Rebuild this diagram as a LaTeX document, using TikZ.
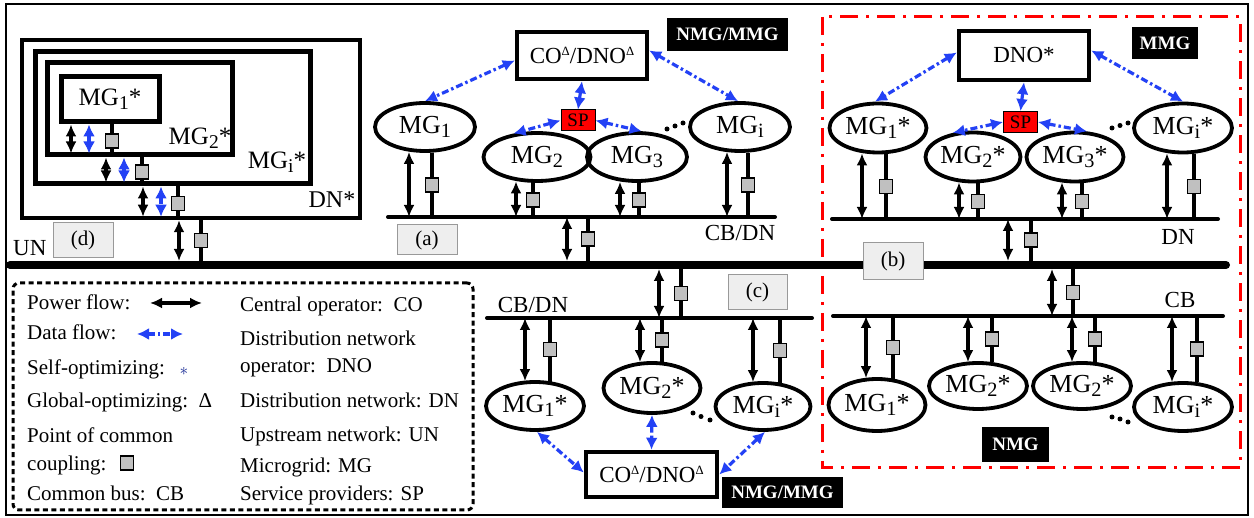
\documentclass[tikz,border=0pt]{standalone}
\usepackage{graphicx}
\usepackage{fontspec}
\setmainfont{Liberation Serif}
\usetikzlibrary{shapes.geometric,arrows.meta,calc}
\definecolor{dblue}{RGB}{35,65,245}
\definecolor{pccgray}{RGB}{192,192,192}
\definecolor{tagfill}{RGB}{238,238,238}
\newcommand\lo[1]{\raisebox{-0.32ex}{\scalebox{0.78}{#1}}}
\newcommand\tri{\raisebox{0.75ex}{\scalebox{0.55}{Δ}}}
\newcommand\fs[1]{\fontsize{#1}{#1}\selectfont}
\tikzset{
 mg/.style={ellipse, draw, line width=3.8pt, inner sep=0pt, font=\fs{26}},
 pcc/.style={rectangle, draw, line width=1.3pt, fill=pccgray, minimum width=13pt, minimum height=14pt, inner sep=0pt},
 pccl/.style={line width=3.2pt},
 pw/.style={line width=3.3pt, {Latex[length=12pt,width=11pt]}-{Latex[length=12pt,width=11pt]}},
 df/.style={dblue, line width=3.2pt, dash pattern=on 7pt off 3pt on 2.5pt off 3pt, {Latex[length=12pt,width=12pt]}-{Latex[length=12pt,width=12pt]}},
 bus/.style={line width=4pt, line cap=round},
 tagbox/.style={draw=gray!80, line width=1pt, fill=tagfill, font=\fs{21}},
 blk/.style={fill=black, text=white, font=\fs{19}\bfseries, inner sep=0pt},
 opbox/.style={draw, line width=4.5pt, font=\fs{23}, inner sep=0pt},
 spbox/.style={draw, fill=red, line width=1pt, font=\fs{19}, minimum width=34pt, minimum height=21pt, inner sep=0pt},
 lbl/.style={font=\fs{23}},
 leg/.style={font=\fs{21}, anchor=base west, inner sep=0pt},
 dbox/.style={draw, line width=5pt, inner sep=0pt},
 dotf/.style={fill=black},
}
\begin{document}
\begin{tikzpicture}[x=1pt,y=-1pt]
\useasboundingbox (0,0) rectangle (1254,518);
\fill[white] (0,0) rectangle (1254,518);
% frames
\draw[line width=2pt] (6,4) rectangle (1248,515);
\draw[red, line width=3pt, dash pattern=on 18pt off 8pt on 3pt off 8pt] (822,17) rectangle (1240,468);
\node[draw, line width=3pt, dash pattern=on 5pt off 3.5pt, rounded corners=6pt, minimum width=460pt, minimum height=227pt] (legend) at (243,396.5) {};

% UN bus coordinates
\coordinate (unL) at (10,265); \coordinate (unR) at (1226,265);
\coordinate (unTop) at (10,261); \coordinate (unBot) at (10,269);

% ---------------- (d) ----------------
\node[dbox, line width=4.5pt, minimum width=338pt, minimum height=178pt] (d4) at (191,129) {};
\node[dbox, minimum width=275pt, minimum height=132pt] (d3) at (172.5,118) {};
\node[dbox, minimum width=185pt, minimum height=92pt] (d2) at (139.5,109) {};
\node[dbox, minimum width=98pt, minimum height=45pt, font=\fs{25}] (d1) at (110,99.5) {MG\lo{1}*};
\node[font=\fs{25}] (d2l) at (200,138) {MG\lo{2}*};
\node[font=\fs{25}] (d3l) at (277,162) {MG\lo{i}*};
\node[font=\fs{24}] (d4l) at (332,200) {DN*};
\draw[pw, shorten >=4pt] (71,0 |- d1.south) -- (71,0 |- d2.south);
\draw[df, shorten >=4pt] (89,0 |- d1.south) -- (89,0 |- d2.south);
\draw[pccl] (112,0 |- d1.south) -- node[pcc]{} (112,0 |- d2.south);
\draw[pw, shorten >=4pt] (106,0 |- d2.south) -- (106,0 |- d3.south);
\draw[df, shorten >=4pt] (124,0 |- d2.south) -- (124,0 |- d3.south);
\draw[pccl] (142,0 |- d2.south) -- node[pcc]{} (142,0 |- d3.south);
\draw[pw, shorten >=3.5pt] (143,0 |- d3.south) -- (143,0 |- d4.south);
\draw[df, shorten >=3.5pt] (161,0 |- d3.south) -- (161,0 |- d4.south);
\draw[pccl] (178,0 |- d3.south) -- node[pcc]{} (178,0 |- d4.south);
\draw[pw] (179,0 |- d4.south) -- (179,0 |- unTop);
\draw[pccl] (201,0 |- d4.south) -- node[pcc]{} (201,0 |- unTop);

% ---------------- (a) ----------------
\node[opbox, minimum width=130pt, minimum height=47pt] (coA) at (582,55.5) {CO\tri/DNO\tri};
\node[blk, minimum width=121pt, minimum height=33pt] (blkA) at (727.5,34.5) {NMG/MMG};
\node[spbox] (spA) at (578,120.5) {SP};
\node[mg, minimum width=100pt, minimum height=48pt] (mgA1) at (425,127) {MG\lo{1}};
\node[mg, minimum width=107pt, minimum height=48pt] (mgA2) at (537,157) {MG\lo{2}};
\node[mg, minimum width=100pt, minimum height=48pt] (mgA3) at (637,157) {MG\lo{3}};
\node[mg, minimum width=100pt, minimum height=48pt] (mgAi) at (740,127) {MG\lo{i}};
\coordinate (busAL) at (388,217); \coordinate (busAR) at (775,217);
\draw[df] ($(coA.west)+(0,5)$) -- (mgA1.north);
\draw[df] ($(coA.east)+(0,-5)$) -- ($(mgAi.north)+(-2,0)$);
\draw[df] (coA.south) -- (spA.north);
\draw[df] (spA.west) -- (mgA2.135);
\draw[df] (spA.east) -- (mgA3.80);
\draw[pw] ($(mgA1.south)+(-16,-1)$) -- (409,0 |- busAL);
\draw[pccl] ($(mgA1.south)+(7,0)$) -- node[pcc]{} (432,0 |- busAL);
\draw[pw] ($(mgA2.south)+(-21,-1.5)$) -- (516,0 |- busAL);
\draw[pccl] ($(mgA2.south)+(-4,0)$) -- node[pcc]{} (533,0 |- busAL);
\draw[pw] ($(mgA3.south)+(-17,-1)$) -- (620,0 |- busAL);
\draw[pccl] ($(mgA3.south)+(2,0)$) -- node[pcc]{} (639,0 |- busAL);
\draw[pw] ($(mgAi.south)+(-13,-1)$) -- (727,0 |- busAL);
\draw[pccl] ($(mgAi.south)+(8,0)$) -- node[pcc]{} (748,0 |- busAL);
\draw[pw] (567,0 |- busAL) -- (567,0 |- unTop);
\draw[pccl] (588,0 |- busAL) -- node[pcc]{} (588,0 |- unTop);
\draw[bus] (busAL) -- (busAR);
\fill[dotf] (667,129) circle[radius=2.5pt] (675,126) circle[radius=2.5pt] (683,123) circle[radius=2.5pt];

% ---------------- (b) upper ----------------
\node[opbox, minimum width=130pt, minimum height=49pt] (dnoB) at (1024,55.5) {DNO*};
\node[blk, minimum width=66pt, minimum height=32pt] (blkB) at (1165,43) {MMG};
\node[spbox] (spB) at (1020.5,122) {SP};
\node[mg, minimum width=97pt, minimum height=49pt] (mgb1) at (878,128) {MG\lo{1}*};
\node[mg, minimum width=95pt, minimum height=49pt] (mgb2) at (973,157) {MG\lo{2}*};
\node[mg, minimum width=97pt, minimum height=49pt] (mgb3) at (1075,157) {MG\lo{3}*};
\node[mg, minimum width=98pt, minimum height=49pt] (mgbi) at (1183,128) {MG\lo{i}*};
\coordinate (busBL) at (832,219); \coordinate (busBR) at (1218,219);
\draw[df] ($(dnoB.west)+(0,-3)$) -- ($(mgb1.north)+(-3,0)$);
\draw[df] ($(dnoB.east)+(0,-5)$) -- (mgbi.north);
\draw[df] (dnoB.south) -- (spB.north);
\draw[df] (spB.west) -- (mgb2.130);
\draw[df] (spB.east) -- (mgb3.65);
\draw[pw] ($(mgb1.south)+(-16,-1)$) -- (862,0 |- busBL);
\draw[pccl] ($(mgb1.south)+(8,0)$) -- node[pcc]{} (886,0 |- busBL);
\draw[pw] ($(mgb2.south)+(-14,-1)$) -- (959,0 |- busBL);
\draw[pccl] ($(mgb2.south)+(5,0)$) -- node[pcc]{} (978,0 |- busBL);
\draw[pw] ($(mgb3.south)+(-13,-1)$) -- (1062,0 |- busBL);
\draw[pccl] ($(mgb3.south)+(7,0)$) -- node[pcc]{} (1082,0 |- busBL);
\draw[pw] ($(mgbi.south)+(-16,-1)$) -- (1167,0 |- busBL);
\draw[pccl] ($(mgbi.south)+(11,-0.5)$) -- node[pcc]{} (1194,0 |- busBL);
\draw[pw] (1008,0 |- busBL) -- (1008,0 |- unTop);
\draw[pccl] (1031,0 |- busBL) -- node[pcc]{} (1031,0 |- unTop);
\draw[bus] (busBL) -- (busBR);
\fill[dotf] (1112,128) circle[radius=2.5pt] (1120,125.5) circle[radius=2.5pt] (1128,123) circle[radius=2.5pt];

% ---------------- (b) lower ----------------
\node[mg, minimum width=97pt, minimum height=52pt] (mgB1) at (877,405) {MG\lo{1}*};
\node[mg, minimum width=98pt, minimum height=46pt] (mgB2) at (978,386) {MG\lo{2}*};
\node[mg, minimum width=98pt, minimum height=46pt] (mgB3) at (1082,386) {MG\lo{2}*};
\node[mg, minimum width=98pt, minimum height=48pt] (mgBi) at (1183,407) {MG\lo{i}*};
\coordinate (busDL) at (833,316); \coordinate (busDR) at (1223,316);
\draw[pw] (866,0 |- busDL) -- ($(mgB1.north)+(-11,1)$);
\draw[pccl] (893,0 |- busDL) -- node[pcc]{} ($(mgB1.north)+(16,1.5)$);
\draw[pw] (968,0 |- busDL) -- ($(mgB2.north)+(-10,1)$);
\draw[pccl] (992,0 |- busDL) -- node[pcc]{} ($(mgB2.north)+(14,1)$);
\draw[pw] (1072,0 |- busDL) -- ($(mgB3.north)+(-10,1)$);
\draw[pccl] (1095,0 |- busDL) -- node[pcc]{} ($(mgB3.north)+(13,1)$);
\draw[pw] (1172,0 |- busDL) -- ($(mgBi.north)+(-11,1)$);
\draw[pccl] (1197,0 |- busDL) -- node[pcc]{} ($(mgBi.north)+(14,1)$);
\draw[pw] (1052,0 |- unBot) -- (1052,0 |- busDL);
\draw[pccl] (1073,0 |- unBot) -- node[pcc]{} (1073,0 |- busDL);
\draw[bus] (busDL) -- (busDR);
\node[blk, minimum width=67pt, minimum height=35pt] (blkN) at (1015.5,444.5) {NMG};
\fill[dotf] (1112,417) circle[radius=2.5pt] (1120,419) circle[radius=2.5pt] (1128,422) circle[radius=2.5pt];

% ---------------- (c) ----------------
\node[mg, minimum width=98pt, minimum height=48pt] (mgC1) at (535,406) {MG\lo{1}*};
\node[mg, minimum width=97pt, minimum height=50pt] (mgC2) at (652,388) {MG\lo{2}*};
\node[mg, minimum width=95pt, minimum height=47pt] (mgCi) at (763,406.5) {MG\lo{i}*};
\node[opbox, minimum width=131pt, minimum height=45pt] (coC) at (651.5,474.5) {CO\tri/DNO\tri};
\node[blk, minimum width=121pt, minimum height=31pt] (blkC) at (782.5,492.5) {NMG/MMG};
\coordinate (busCL) at (487,318); \coordinate (busCR) at (812,318);
\draw[pw] (525,0 |- busCL) -- ($(mgC1.north)+(-10,1)$);
\draw[pccl] (550,0 |- busCL) -- node[pcc]{} ($(mgC1.north)+(15,1.5)$);
\draw[pw] (640,0 |- busCL) -- ($(mgC2.north)+(-12,1)$);
\draw[pccl] (662,0 |- busCL) -- node[pcc]{} ($(mgC2.north)+(10,1)$);
\draw[pw] (753,0 |- busCL) -- ($(mgCi.north)+(-10,1)$);
\draw[pccl] (780,0 |- busCL) -- node[pcc]{} ($(mgCi.north)+(17,2)$);
\draw[pw] (659,0 |- unBot) -- (659,0 |- busCL);
\draw[pccl] (681,0 |- unBot) -- node[pcc]{} (681,0 |- busCL);
\draw[bus] (busCL) -- (busCR);
\draw[df] ($(mgC1.south)+(2,0)$) -- ($(coC.west)+(0,-2)$);
\draw[df] (mgC2.south) -- (coC.north);
\draw[df] ($(mgCi.south)+(2,0)$) -- (coC.east);
\fill[dotf] (693,413) circle[radius=2.5pt] (701,416.5) circle[radius=2.5pt] (710,420) circle[radius=2.5pt];

% UN bus
\draw[line width=8pt, line cap=round] (unL) -- (unR);

% tags and labels
\node[tagbox, minimum width=60pt, minimum height=35pt] (tagd) at (83,240.5) {(d)};
\node[tagbox, minimum width=60pt, minimum height=30pt] (taga) at (427,240) {(a)};
\node[tagbox, minimum width=60pt, minimum height=37pt] (tagb) at (893,261.5) {(b)};
\node[tagbox, minimum width=59pt, minimum height=35pt] (tagc) at (757.5,292.5) {(c)};
\node[lbl, anchor=west, inner sep=0pt] (unlbl) at (13,248) {UN};
\node[lbl] (cbdnA) at (740,233) {CB/DN};
\node[lbl] (dnB) at (1178,237) {DN};
\node[lbl] (cbB) at (1180,300) {CB};
\node[lbl] (cbdnC) at (533,305) {CB/DN};

% legend
\node[leg] (l1) at (27,310) {Power flow:};
\coordinate (lpa) at (150,303); \coordinate (lpb) at (202,303);
\draw[pw] (lpa) -- (lpb);
\node[leg] (l2) at (27,340) {Data flow:};
\coordinate (lda) at (137,334); \coordinate (ldb) at (183,334);
\draw[df] (lda) -- (ldb);
\node[leg] (l3) at (27,375) {Self-optimizing:};
\node[font=\fs{18}, text=dblue!60!black, inner sep=0pt] (l3s) at (184,371) {$\ast$};
\node[leg] (l4) at (27,408) {Global-optimizing:\ \ Δ};
\node[leg] (l5) at (27,443) {Point of common};
\node[leg] (l6) at (27,471) {coupling:};
\node[pcc] (l6s) at (127,463) {};
\node[leg] (l7) at (27,501) {Common bus:\ \ CB};
\node[leg] (r1) at (240,312) {Central operator:\ \ CO};
\node[leg] (r2) at (240,346) {Distribution network};
\node[leg] (r3) at (240,373) {operator:\ \ DNO};
\node[leg] (r4) at (240,408) {Distribution network: DN};
\node[leg] (r5) at (240,442) {Upstream network: UN};
\node[leg] (r6) at (240,473) {Microgrid: MG};
\node[leg] (r7) at (240,501) {Service providers: SP};
\end{tikzpicture}
\end{document}
